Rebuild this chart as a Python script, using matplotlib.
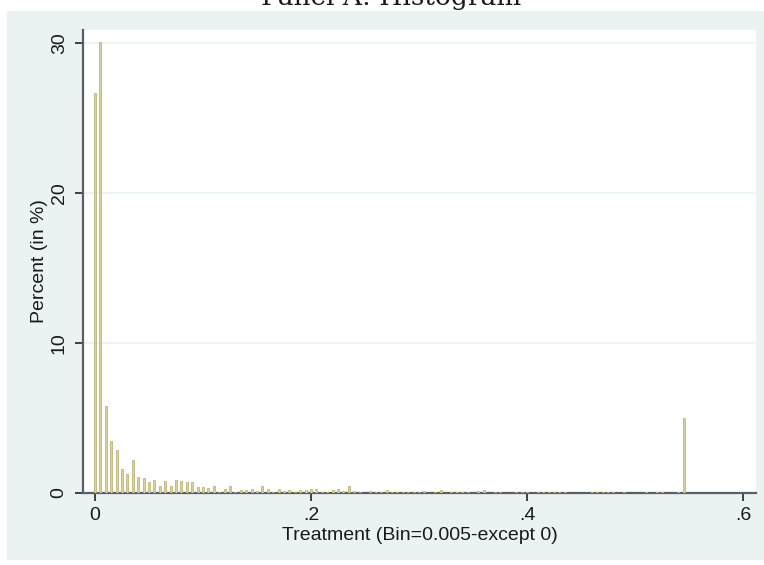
import numpy as np
import matplotlib
matplotlib.use("Agg")
import matplotlib.pyplot as plt
from matplotlib.patches import Rectangle

# bin index (bin width 0.005) and percent in each bin
bin_width = 0.005
bin_k = list(range(0, 110))
pct = [26.7, 30.1, 5.82, 3.44, 2.84, 1.62, 1.29, 2.17, 1.09, 1.02,
       0.75, 0.89, 0.49, 0.82, 0.49, 0.89, 0.82, 0.75, 0.75, 0.42,
       0.42, 0.35, 0.49, 0.09, 0.29, 0.49, 0.09, 0.22, 0.22, 0.29,
       0.15, 0.49, 0.29, 0.09, 0.29, 0.16, 0.22, 0.09, 0.22, 0.22,
       0.29, 0.29, 0.09, 0.09, 0.22, 0.29, 0.16, 0.49, 0.16, 0.09,
       0.0, 0.16, 0.09, 0.09, 0.22, 0.09, 0.09, 0.09, 0.09, 0.09,
       0.09, 0.16, 0.0, 0.09, 0.22, 0.0, 0.09, 0.09, 0.09, 0.09,
       0.0, 0.16, 0.22, 0.0, 0.09, 0.09, 0.0, 0.0, 0.07, 0.07,
       0.07, 0.0, 0.07, 0.07, 0.07, 0.07, 0.07, 0.07, 0.0, 0.0,
       0.0, 0.0, 0.07, 0.07, 0.07, 0.07, 0.07, 0.0, 0.07, 0.0,
       0.0, 0.0, 0.07, 0.0, 0.07, 0.07, 0.0, 0.0, 0.07, 5.0]

xticks = [0, 0.2, 0.4, 0.6]
xtick_labels = ["0", ".2", ".4", ".6"]
yticks = [0, 10, 20, 30]

bg = "#EAF2F3"
bar_face = "#D9D3A2"
bar_edge = "#BFB47A"
axis_col = "#5A5F63"

W, H = 764, 565
fig = plt.figure(figsize=(W / 100, H / 100), dpi=100)
fig.patch.set_facecolor("white")
fig.add_artist(Rectangle((7 / W, 1 - 560 / H), (W - 7) / W, (560 - 11) / H,
                         transform=fig.transFigure, facecolor=bg,
                         edgecolor="none", zorder=0))

ax = fig.add_axes([83 / W, 1 - 493 / H, (756 - 83) / W, (493 - 30) / H])
ax.set_facecolor("white")

x = np.array(bin_k) * bin_width
ax.bar(x, pct, width=0.0019, align="center", color=bar_face,
       edgecolor=bar_edge, linewidth=0.6, zorder=3)

ax.set_xlim(-0.0111, 0.612)
ax.set_ylim(0, 30.89)

ax.set_yticks(yticks)
ax.set_yticklabels([str(v) for v in yticks], rotation=90, va="center")
ax.set_xticks(xticks)
ax.set_xticklabels(xtick_labels)

ax.yaxis.grid(True, color=bg, linewidth=1.2, zorder=1)
ax.set_axisbelow(True)

for s in ["top", "right"]:
    ax.spines[s].set_visible(False)
for s in ["left", "bottom"]:
    ax.spines[s].set_color(axis_col)
    ax.spines[s].set_linewidth(1.6)

font = "Liberation Sans"
ax.tick_params(axis="both", direction="out", length=6, width=1.2,
               color="#222222", labelsize=14, labelcolor="#1a1a1a")
ax.tick_params(axis="y", pad=5)
ax.tick_params(axis="x", pad=4)
for lab in ax.get_xticklabels() + ax.get_yticklabels():
    lab.set_family(font)

ax.set_xlabel("Treatment (Bin=0.005-except 0)", fontsize=14, family=font,
              color="#1a1a1a", labelpad=2)
ax.set_ylabel("Percent (in %)", fontsize=14, family=font,
              color="#1a1a1a", labelpad=2)

# title sits partly above the top edge, as in the source image
fig.text(391 / W, 1 - 5 / H, "Panel A: Histogram", ha="center",
         va="baseline", fontsize=19, family="DejaVu Serif", color="#1a1a1a")

fig.savefig("out.png", dpi=100)
